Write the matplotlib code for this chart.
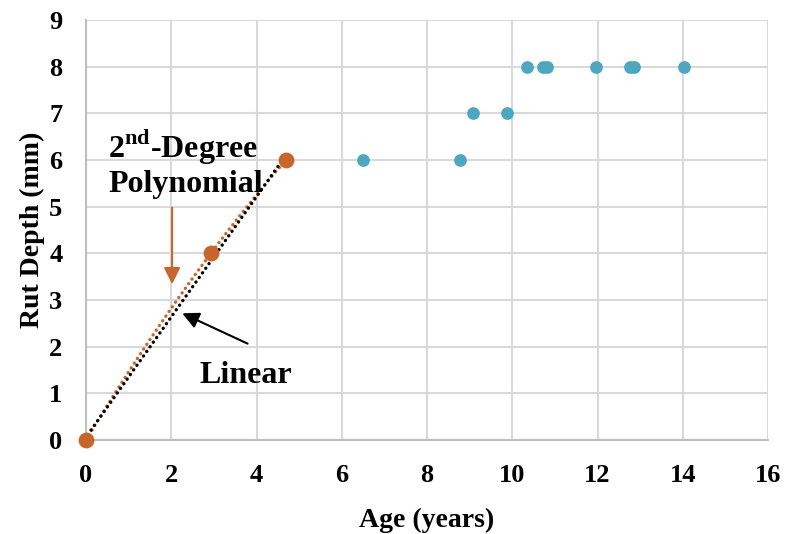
import numpy as np
import matplotlib
matplotlib.use("Agg")
import matplotlib.pyplot as plt

plt.rcParams['font.family'] = ['Liberation Serif', 'DejaVu Serif']
plt.rcParams['mathtext.fontset'] = 'custom'
plt.rcParams['mathtext.rm'] = 'Liberation Serif'
plt.rcParams['mathtext.bf'] = 'Liberation Serif:bold'

# Data
early_age = [0.0, 2.93, 4.69]
early_rut = [0, 4, 6]
late_age = [6.51, 8.77, 9.07, 9.87, 10.34, 10.71, 10.81, 11.96, 12.76, 12.86, 14.02]
late_rut = [6, 6, 7, 7, 8, 8, 8, 8, 8, 8, 8]
x_ticks = list(range(0, 17, 2))
y_ticks = list(range(0, 10))

orange = '#C8652B'
blue = '#4BA8C0'

fig = plt.figure(figsize=(7.87, 5.34), dpi=100)
ax = fig.add_axes([86/787, 1-440/534, (768-86)/787, (440-20)/534])

# Trendlines computed from the early data
xs = np.linspace(min(early_age), max(early_age), 100)
p2 = np.polyfit(early_age, early_rut, 2)
p1 = np.polyfit(early_age, early_rut, 1)
ax.plot(xs, np.polyval(p2, xs), linestyle=(0, (0.05, 1.65)), color=orange, lw=2.4,
        dash_capstyle='round', zorder=3)
ax.plot(xs, np.polyval(p1, xs), linestyle=(0.8, (0.05, 1.65)), color='black', lw=2.4,
        dash_capstyle='round', zorder=3)

ax.scatter(early_age, early_rut, s=130, color=orange, zorder=4, linewidths=0, clip_on=False)
ax.scatter(late_age, late_rut, s=84, color=blue, zorder=4, linewidths=0, clip_on=False)

ax.set_xlim(0, 16)
ax.set_ylim(0, 9)
ax.set_xticks(x_ticks)
ax.set_yticks(y_ticks)
ax.grid(True, color='#D9D9D9', lw=1.5)
ax.set_axisbelow(True)
for s in ['top', 'right']:
    ax.spines[s].set_visible(False)
for s in ['left', 'bottom']:
    ax.spines[s].set_color('#BFBFBF')
    ax.spines[s].set_linewidth(1.5)
ax.tick_params(axis='x', length=0, labelsize=19, pad=17)
ax.tick_params(axis='y', length=0, labelsize=19, pad=17)
for lab in ax.get_xticklabels() + ax.get_yticklabels():
    lab.set_fontweight('bold')

ax.set_xlabel('Age (years)', fontsize=20, fontweight='bold', labelpad=15)
ax.set_ylabel('Rut Depth (mm)', fontsize=20, fontweight='bold', labelpad=3)

ax.text(0.52, 6.06, r'2$^{\mathbf{nd}}$-Degree', fontsize=23,
        fontweight='bold', ha='left', va='baseline')
ax.text(0.52, 5.31, 'Polynomial', fontsize=23,
        fontweight='bold', ha='left', va='baseline')
ax.annotate('', xy=(2.02, 3.28), xytext=(2.02, 5.04),
            arrowprops=dict(arrowstyle='-|>', color=orange, lw=1.5, mutation_scale=25))
ax.annotate('', xy=(2.2, 2.74), xytext=(3.85, 2.04),
            arrowprops=dict(arrowstyle='-|>', color='black', lw=1.5, mutation_scale=25))
ax.text(2.67, 1.22, 'Linear', fontsize=23, fontweight='bold', ha='left', va='baseline')

fig.savefig('out.png', dpi=100)
